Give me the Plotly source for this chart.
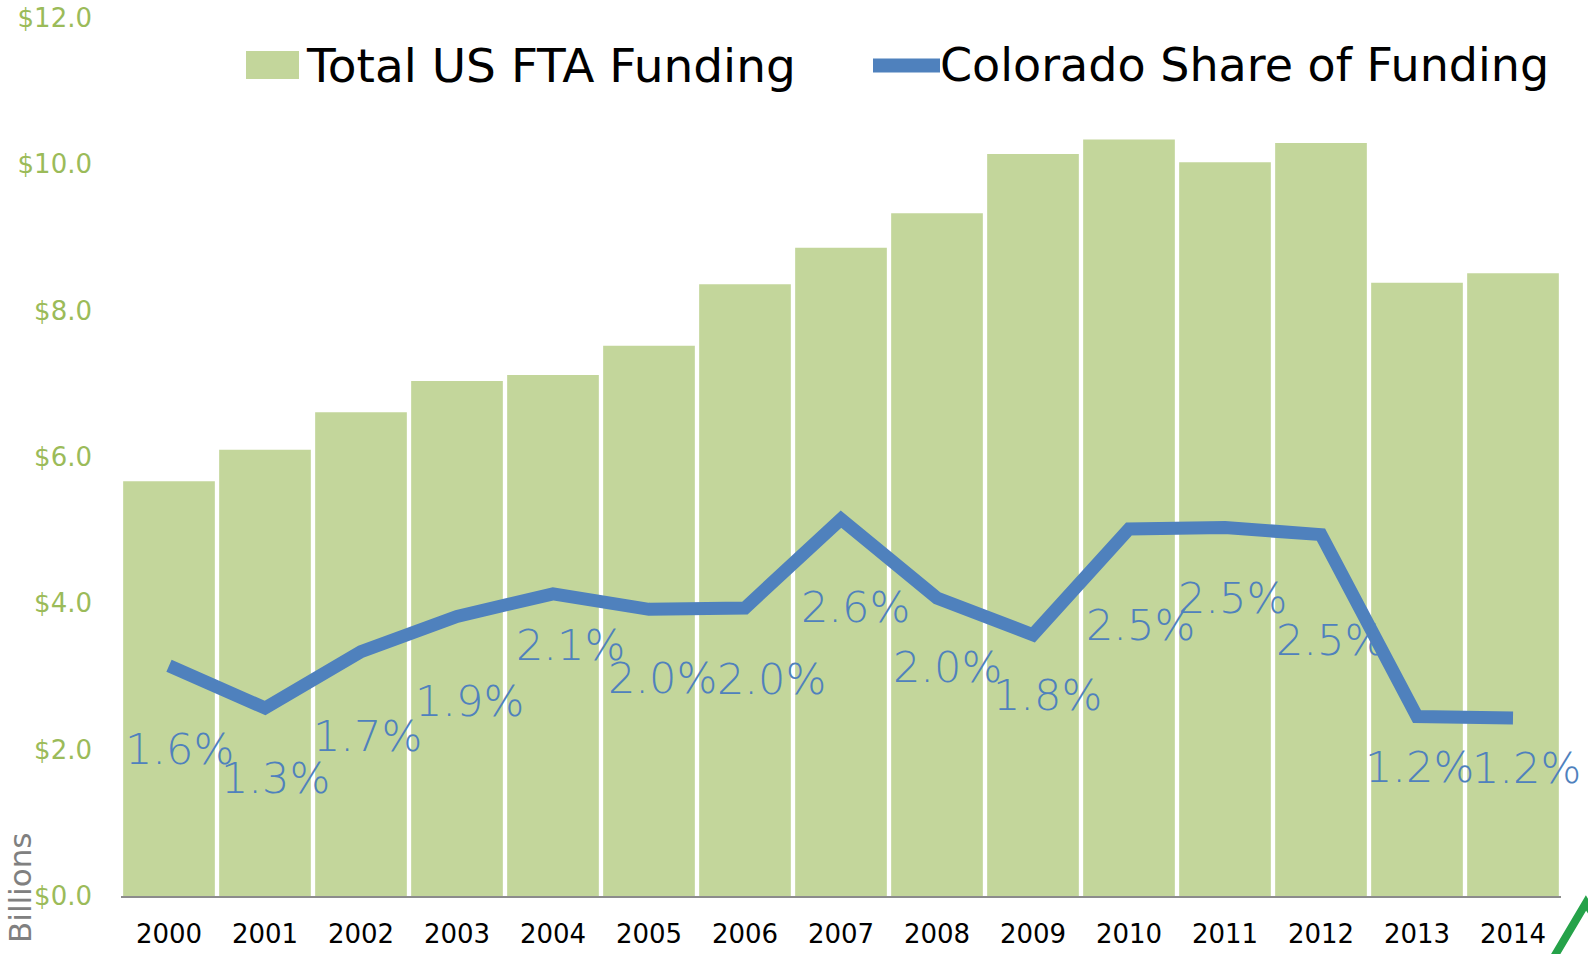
import plotly.graph_objects as go

# ---------------- data ----------------
years = ["2000", "2001", "2002", "2003", "2004", "2005", "2006", "2007",
         "2008", "2009", "2010", "2011", "2012", "2013", "2014"]
total_funding = [5.67, 6.10, 6.61, 7.04, 7.12, 7.52, 8.36, 8.86,
                 9.33, 10.14, 10.34, 10.03, 10.29, 8.38, 8.51]   # $ billions
colorado_share = [1.56, 1.26, 1.66, 1.91, 2.07, 1.96, 1.97, 2.60,
                  2.04, 1.78, 2.53, 2.54, 2.49, 1.20, 1.19]      # percent
bar_name = "Total US FTA Funding"
line_name = "Colorado Share of Funding"
y_title = "Billions"

# label offsets (pixels) of the data labels relative to their points
label_dx = [10, 10, 6, 12, 17, 13, 26, 14, 10, 14, 11, 7, 9, 2, 13]
label_dy = [83, 70, 84, 85, 51, 69, 71, 88, 69, 60, 96, 70, 105, 50, 50]

# ---------------- style ----------------
FONT = "DejaVu Sans"
FONT_LIGHT = "DejaVu Sans Light, DejaVu Sans"
BAR_COLOR = "#C3D69B"
LINE_COLOR = "#4F81BD"
TICK_GREEN = "#9BBB59"
W, H = 1588, 954
ML, MR, MT, MB = 121, 27, 18, 58
PW, PH = W - ML - MR, H - MT - MB


def px_x(px):
    return (px - ML) / PW


def px_y(py):
    return (H - MB - py) / PH


fig = go.Figure()
fig.add_trace(go.Bar(
    x=years, y=total_funding, name=bar_name,
    marker=dict(color=BAR_COLOR, line=dict(width=0)),
    showlegend=False, hoverinfo="x+y",
))
fig.add_trace(go.Scatter(
    x=years, y=colorado_share, name=line_name, yaxis="y2",
    mode="lines", line=dict(color=LINE_COLOR, width=13),
    showlegend=False,
))

annotations = []
for i, (v, dx, dy) in enumerate(zip(colorado_share, label_dx, label_dy)):
    annotations.append(dict(
        x=i, y=v, xref="x", yref="y2", text=f"{v:.1f}%",
        showarrow=False, xshift=dx, yshift=-dy,
        font=dict(family=FONT_LIGHT, size=43, color=LINE_COLOR),
        xanchor="center", yanchor="middle",
    ))

# manual legend
annotations.append(dict(
    x=px_x(304), y=px_y(65), xref="paper", yref="paper", text=bar_name,
    showarrow=False, xanchor="left", yanchor="middle",
    font=dict(family=FONT, size=47, color="#000000"),
))
annotations.append(dict(
    x=px_x(938), y=px_y(65), xref="paper", yref="paper", text=line_name,
    showarrow=False, xanchor="left", yanchor="middle",
    font=dict(family=FONT, size=46, color="#000000"),
))
# axis title
annotations.append(dict(
    x=px_x(20), y=px_y(888), xref="paper", yref="paper", text=y_title,
    showarrow=False, textangle=-90, xanchor="center", yanchor="middle",
    font=dict(family=FONT, size=31, color="#808080"),
))

shapes = [
    dict(type="rect", xref="paper", yref="paper",
         x0=px_x(246), x1=px_x(299), y0=px_y(79), y1=px_y(51),
         fillcolor=BAR_COLOR, line=dict(width=0)),
    dict(type="line", xref="paper", yref="paper",
         x0=px_x(873), x1=px_x(940), y0=px_y(65.5), y1=px_y(65.5),
         line=dict(color=LINE_COLOR, width=14)),
    # decorative green stroke in the bottom-right corner
    dict(type="path", xref="paper", yref="paper",
         path=f"M {px_x(1551)} {px_y(962)} L {px_x(1586)} {px_y(903)} L {px_x(1600)} {px_y(925)}",
         line=dict(color="#25A249", width=8)),
]

fig.update_layout(
    width=W, height=H,
    margin=dict(l=ML, r=MR, t=MT, b=MB, pad=0, autoexpand=False),
    paper_bgcolor="white", plot_bgcolor="white",
    bargap=0.045,
    font=dict(family=FONT),
    annotations=annotations,
    shapes=shapes,
    xaxis=dict(
        type="category", range=[-0.5, len(years) - 0.5], automargin=False,
        showgrid=False, zeroline=False,
        showline=True, linecolor="#8C8C8C", linewidth=2,
        ticks="", tickfont=dict(family=FONT, size=26, color="#000000"),
        ticklabelstandoff=14,
    ),
    yaxis=dict(
        range=[0, 12], dtick=2, tickprefix="$", tickformat=".1f", automargin=False,
        showgrid=False, zeroline=False, showline=False, ticks="",
        tickfont=dict(family=FONT, size=26, color=TICK_GREEN),
        ticklabelstandoff=28,
    ),
    yaxis2=dict(
        overlaying="y", side="right", range=[-0.073, 6.154], automargin=False,
        visible=False, showgrid=False, zeroline=False,
    ),
)

fig.write_html(
    "out.html",
    config={"displayModeBar": False},
    post_script="document.body.style.margin='0';document.body.style.overflow='hidden';",
)
